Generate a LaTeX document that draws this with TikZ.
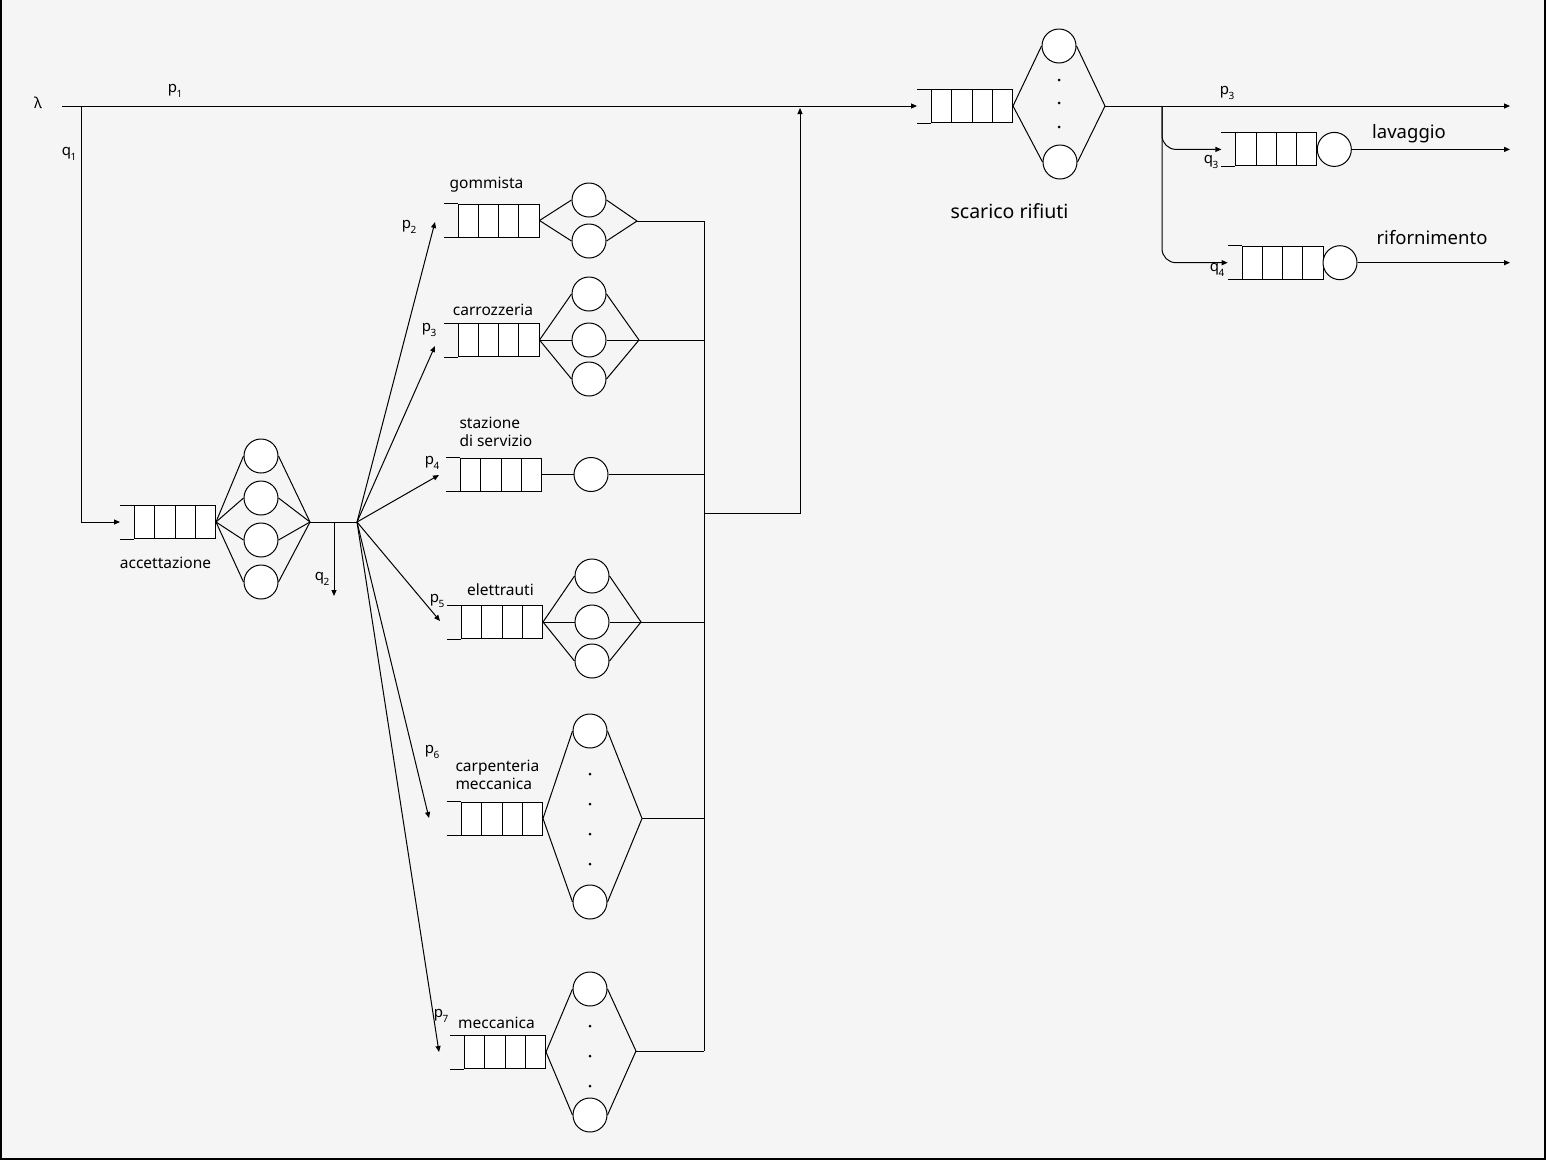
\documentclass[tikz,border=0pt]{standalone}
\usepackage{fontspec}
\setmainfont{Noto Sans}
\usetikzlibrary{calc,arrows.meta}
\definecolor{bg}{HTML}{F5F5F5}
\tikzset{
  qbox/.style={draw, fill=white, rectangle, minimum width=81pt, minimum height=33pt, inner sep=0pt,
    path picture={\foreach \k in {1,2,3}{\draw[line width=1pt] ([xshift=\k*20.25pt]path picture bounding box.north west) -- ([xshift=\k*20.25pt]path picture bounding box.south west);}}},
  srv/.style={draw, fill=white, circle, minimum size=34pt, inner sep=0pt},
  dotn/.style={circle, fill=black, minimum size=3pt, inner sep=0pt},
  lab/.style={font=\fontsize{15.5}{18}\selectfont, inner sep=0pt},
  biglab/.style={font=\fontsize{18.5}{22}\selectfont, inner sep=0pt},
  plab/.style={font=\fontsize{15}{16}\selectfont, inner sep=0pt},
  arr/.style={-{Triangle[length=6pt,width=5pt]}}
}
\newcommand\mkqueue[3]{%
  \node[qbox] (#1) at (#2,#3) {};
  \draw ([xshift=-14pt]#1.north west) -- (#1.north west);
  \draw ([xshift=-14pt]#1.south west) -- (#1.south west);
  \coordinate (#1-in) at ([xshift=-14pt]#1.west);
}
\newcommand\psb[2]{#1\kern-0.5pt\raisebox{-4.5pt}{\fontsize{10}{10}\selectfont #2}}
\begin{document}
\begin{tikzpicture}[x=1pt,y=-1pt,line width=1pt]
\fill[bg] (0,0) rectangle (1546,1160);
\useasboundingbox (0,0) rectangle (1546,1160);
\fill[black] (0,0) rectangle (2,1160);
\fill[black] (0,1158) rectangle (1546,1160);
\fill[black] (1544,0) rectangle (1546,1160);

% ---------- coordinates ----------
\coordinate (lam) at (62,106);
\coordinate (j1) at (81,106);
\coordinate (aj) at (310,522);
\coordinate (fan) at (357,522);
\coordinate (q2s) at (334,522);
\coordinate (q2e) at (334,596);
\coordinate (t2) at (435,222);
\coordinate (t3) at (435,346);
\coordinate (t4) at (439,475);
\coordinate (t5) at (440,621);
\coordinate (t6) at (429,818);
\coordinate (t7) at (439,1052);

% ---------- accettazione ----------
\mkqueue{aq}{175}{522}
\node[srv] (a1) at (261,456) {};
\node[srv] (a2) at (261,498) {};
\node[srv] (a3) at (261,540) {};
\node[srv] (a4) at (261,582) {};
\foreach \s in {a1,a2,a3,a4}{\draw (aq.east) -- (\s.west); \draw (\s.east) -- (aj);}
\draw (aj) -- (fan);
\draw[arr] (q2s) -- (q2e);
\draw[arr] (j1) |- (aq-in);
\foreach \t in {t2,t3,t4,t5,t6,t7}{\draw[arr] (fan) -- (\t);}

% ---------- gommista ----------
\mkqueue{gq}{498.5}{220.5}
\node[srv] (g1) at (589,200) {};
\node[srv] (g2) at (589,241) {};
\coordinate (gj) at (637,221);
\coordinate (gc) at (704,221);
\draw (gq.east) -- (g1.west); \draw (gq.east) -- (g2.west);
\draw (g1.east) -- (gj); \draw (g2.east) -- (gj);
\draw (gj) -- (gc);

% ---------- carrozzeria ----------
\mkqueue{cq}{498.5}{340}
\node[srv] (c1) at (589,294) {};
\node[srv] (c2) at (589,340) {};
\node[srv] (c3) at (589,379) {};
\coordinate (cj) at (639,340);
\coordinate (cc) at (704,340);
\foreach \s in {c1,c2,c3}{\draw (cq.east) -- (\s.west); \draw (\s.east) -- (cj);}
\draw (cj) -- (cc);

% ---------- stazione di servizio ----------
\mkqueue{sq4}{501}{474.5}
\node[srv] (s1) at (591,474.5) {};
\coordinate (sc) at (704,474.5);
\draw (sq4.east) -- (s1.west);
\draw (s1.east) -- (sc);

% ---------- elettrauti ----------
\mkqueue{eq}{502}{622}
\node[srv] (e1) at (592,576) {};
\node[srv] (e2) at (592,622) {};
\node[srv] (e3) at (592,661) {};
\coordinate (ej) at (641,622);
\coordinate (ec) at (704,622);
\foreach \s in {e1,e2,e3}{\draw (eq.east) -- (\s.west); \draw (\s.east) -- (ej);}
\draw (ej) -- (ec);

% ---------- carpenteria meccanica ----------
\mkqueue{kq}{502}{818.5}
\node[srv] (k1) at (590,731) {};
\node[srv] (k2) at (590,902) {};
\foreach \yy in {774,804,834,864}{\node[dotn] at (590,\yy) {};}
\coordinate (kj) at (642,818.5);
\coordinate (kc) at (704,818.5);
\draw (kq.east) -- (k1.west); \draw (kq.east) -- (k2.west);
\draw (k1.east) -- (kj); \draw (k2.east) -- (kj);
\draw (kj) -- (kc);

% ---------- meccanica ----------
\mkqueue{mq}{505}{1052}
\node[srv] (m1) at (590,989) {};
\node[srv] (m2) at (590,1115) {};
\foreach \yy in {1026,1056,1086}{\node[dotn] at (590,\yy) {};}
\coordinate (mj) at (636,1051);
\coordinate (mc) at (704,1051);
\draw (mq.east) -- (m1.west); \draw (mq.east) -- (m2.west);
\draw (m1.east) -- (mj); \draw (m2.east) -- (mj);
\draw (mj) -- (mc);

% ---------- collector ----------
\draw (gc) -- (mc);
\coordinate (col) at (704,513);
\coordinate (up) at (800,108);
\draw[arr] (col) -| (up);

% ---------- scarico rifiuti ----------
\mkqueue{rq}{972}{106}
\node[srv] (r1) at (1059,46) {};
\node[srv] (r2) at (1060,162) {};
\foreach \yy in {80,103,127}{\node[dotn] at (1059,\yy) {};}
\coordinate (rj) at (1105,106);
\coordinate (out1) at (1510,106);
\draw (rq.east) -- (r1.west); \draw (rq.east) -- (r2.west);
\draw (r1.east) -- (rj); \draw (r2.east) -- (rj);
\draw[arr] (rj) -- (out1);
\draw[arr] (lam) -- (rq-in);

% ---------- lavaggio / rifornimento ----------
\coordinate (br) at (1162,106);
\mkqueue{lq}{1276.4}{149.4}
\node[srv] (l1) at (1334.3,149.4) {};
\coordinate (out2) at (1510,149.4);
\draw[arr, rounded corners=14pt] (br) |- (lq-in);
\draw[arr] (l1.east) -- (out2);
\mkqueue{fq}{1282.7}{262.7}
\node[srv] (f1) at (1340,262.7) {};
\coordinate (out3) at (1510,262.7);
\draw[arr, rounded corners=14pt] (br) |- (fq-in);
\draw[arr] (f1.east) -- (out3);

% ---------- labels ----------
\node[plab] (llam) at (38,103) {λ};
\node[plab] (lp1) at (175,91) {\psb{p}{1}};
\node[plab] (lq1) at (69,154) {\psb{q}{1}};
\node[plab] (lq2) at (322,579) {\psb{q}{2}};
\node[plab] (lp2) at (409,227) {\psb{p}{2}};
\node[plab] (lp3) at (429,330) {\psb{p}{3}};
\node[plab] (lp4) at (432,463) {\psb{p}{4}};
\node[plab] (lp5) at (437,601) {\psb{p}{5}};
\node[plab] (lp6) at (432,752) {\psb{p}{6}};
\node[plab] (lp7) at (441,1016) {\psb{p}{7}};
\node[plab] (lp3b) at (1227,93) {\psb{p}{3}};
\node[plab] (lq3) at (1211,162) {\psb{q}{3}};
\node[plab] (lq4) at (1217,270) {\psb{q}{4}};

\node[lab] (tacc) at (165.5,563) {accettazione};
\node[lab] (tgom) at (486.5,185) {gommista};
\node[lab] (tcar) at (493,310) {carrozzeria};
\node[lab, align=left, anchor=west] (tsta) at (459,432) {stazione\\di servizio};
\node[lab] (tele) at (500.5,590) {elettrauti};
\node[lab, align=left, anchor=west] (tcm) at (455,775) {carpenteria\\meccanica};
\node[lab] (tmec) at (496.5,1023) {meccanica};
\node[biglab, font=\fontsize{19.5}{22}\selectfont] (tsca) at (1009.5,211) {scarico rifiuti};
\node[biglab] (tlav) at (1409,134) {lavaggio};
\node[biglab] (trif) at (1432,238) {rifornimento};
\end{tikzpicture}
\end{document}
